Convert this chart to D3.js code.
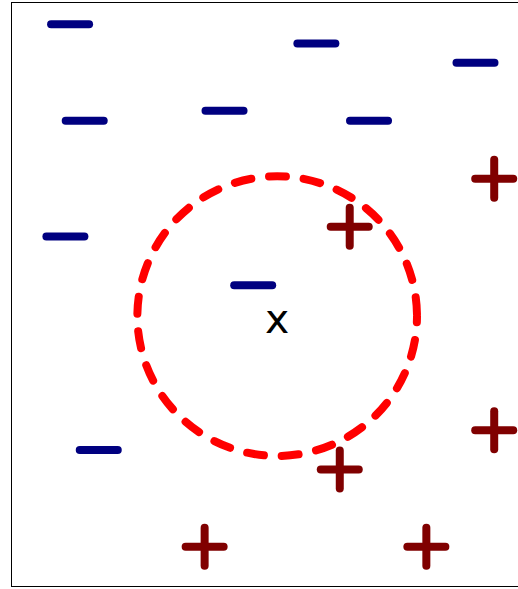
<!DOCTYPE html>
<html>
  <head>
    <meta charset="utf-8" />
    <title>Nearest neighbours</title>
    <style>
      html, body {
        margin: 0;
        padding: 0;
        background-color: white;
      }
    </style>
  </head>
  <body>
    <script src="https://d3js.org/d3.v7.min.js"></script>
    <script>
      var w = 518;
      var h = 589;

      // negative class points (x, y)
      var negX = [1.01, 5.22, 7.94, 1.26, 3.65, 6.12, 0.93, 4.14, 1.50];
      var negY = [9.62, 9.29, 8.96, 7.97, 8.14, 7.97, 5.99, 5.16, 2.34];

      // positive class points
      var posX = [8.26, 5.79, 8.26, 5.62, 3.31, 7.10];
      var posY = [6.98, 6.16, 2.68, 2.01, 0.69, 0.69];

      // query point and neighbourhood radius
      var query = [4.55, 4.63];
      var radius = 2.39;
      var queryLabel = "x";

      var svg = d3.select("body")
        .append("svg")
        .attr("width", w)
        .attr("height", h);

      var x = d3.scaleLinear().domain([0, 10]).range([11, 596]);
      var y = d3.scaleLinear().domain([0, 10]).range([587, 2]);

      // axes frame
      svg.append("rect")
        .attr("x", x(0) + 0.5)
        .attr("y", y(10) + 0.5)
        .attr("width", x(10) - x(0))
        .attr("height", y(0) - y(10) - 1)
        .attr("fill", "none")
        .attr("stroke", "black")
        .attr("stroke-width", 1);

      var half = 19;

      var neg = d3.range(negX.length).map(function(i) { return [negX[i], negY[i]]; });
      var pos = d3.range(posX.length).map(function(i) { return [posX[i], posY[i]]; });

      svg.selectAll(".neg")
        .data(neg)
        .enter()
        .append("line")
        .attr("class", "neg")
        .attr("x1", function(d) { return x(d[0]) - half; })
        .attr("x2", function(d) { return x(d[0]) + half; })
        .attr("y1", function(d) { return y(d[1]); })
        .attr("y2", function(d) { return y(d[1]); })
        .attr("stroke", "#000080")
        .attr("stroke-width", 8)
        .attr("stroke-linecap", "round");

      var plus = svg.selectAll(".pos")
        .data(pos)
        .enter()
        .append("g")
        .attr("class", "pos")
        .attr("transform", function(d) { return "translate(" + x(d[0]) + "," + y(d[1]) + ")"; })
        .attr("stroke", "#800000")
        .attr("stroke-width", 8)
        .attr("stroke-linecap", "round");

      plus.append("line")
        .attr("x1", -half).attr("x2", half)
        .attr("y1", 0).attr("y2", 0);
      plus.append("line")
        .attr("x1", 0).attr("x2", 0)
        .attr("y1", -half).attr("y2", half);

      // neighbourhood circle
      svg.append("circle")
        .attr("cx", x(query[0]))
        .attr("cy", y(query[1]))
        .attr("r", x(radius) - x(0))
        .attr("fill", "none")
        .attr("stroke", "red")
        .attr("stroke-width", 8)
        .attr("stroke-linecap", "round")
        .attr("stroke-dasharray", "17,17.8")
        .attr("stroke-dashoffset", 10.8);

      svg.append("text")
        .attr("x", x(query[0]))
        .attr("y", y(query[1]) + 17)
        .attr("text-anchor", "middle")
        .attr("font-family", "DejaVu Sans")
        .attr("font-size", 41)
        .text(queryLabel);
    </script>
  </body>
</html>
